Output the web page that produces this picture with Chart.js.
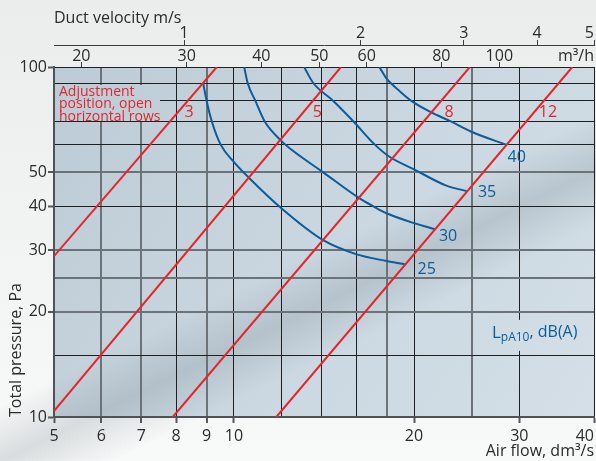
<!DOCTYPE html>
<html>
<head>
<meta charset="utf-8">
<script src="https://cdn.jsdelivr.net/npm/chart.js@4.4.0/dist/chart.umd.min.js"></script>
<style>
    html, body { margin: 0; padding: 0; background: #f2f3f3; }
    #wrap { position: relative; width: 596px; height: 461px; }
</style>
</head>
<body>
<div id="wrap"><canvas id="chart"></canvas></div>
<script>
// =============================================================================
// Air flow vs total pressure (log-log), adjustment positions + sound levels
// =============================================================================

// --- axes ---
const flowTicks = [5, 6, 7, 8, 9, 10, 12, 14, 16, 18, 20, 25, 30, 40];   // dm3/s grid
const flowLabels = [5, 6, 7, 8, 9, 10, 20, 30, 40];
const pressureTicks = [10, 15, 20, 25, 30, 40, 50, 60, 70, 80, 90, 100]; // Pa grid
const pressureLabels = [10, 20, 30, 40, 50, 100];
const m3hTicks = [20, 30, 40, 50, 60, 80, 100];
const velocityTicks = [1, 2, 3, 4, 5];

// --- adjustment positions (open horizontal rows), straight lines ---
const positionNames = ['3', '5', '8', '12'];
const positionFlow = [[5, 9.36], [5, 15.1], [7.9, 24.8], [11.77, 36.8]];
const positionPa = [[28.8, 100], [10.4, 100], [10, 100], [10, 100]];
const positionTag = [[8.41, 74.4], [13.78, 74.4], [22.9, 74.4], [33.5, 74.4]];

// --- sound level LpA10, dB(A) ---
const levelNames = ['25', '30', '35', '40'];
const level25Flow = [8.88, 9.0, 9.18, 9.5, 10, 10.6, 12, 14.1, 16, 18, 19.3];
const level25Pa = [90, 80, 70, 60, 53.5, 48.2, 39.5, 32, 29.2, 27.9, 27.3];
const level30Flow = [10.4, 10.54, 10.86, 11.25, 12, 12.5, 14.1, 16.2, 17.1, 18, 20, 21.7];
const level30Pa = [100, 90, 80, 70, 61.5, 57.9, 50, 42.2, 40, 38.2, 35.8, 34.4];
const level35Flow = [13.1, 13.57, 14.66, 15.83, 17.2, 18.2, 20, 22.6, 24.5];
const level35Pa = [100, 90, 80, 70, 60, 55.4, 51, 45.9, 44.2];
const level40Flow = [17.5, 18.0, 18.9, 19.8, 21.3, 23, 25, 28.5];
const level40Pa = [100, 92.6, 85.5, 80, 74.4, 70, 65.2, 60];
const levelTag = [[21.0, 26.4], [22.8, 32.9], [26.5, 43.8], [29.7, 55.1]];

// unit conversions for the top axes
const M3H_PER_DM3S = 3.6;
const DM3S_PER_MS = 8;

// --- style ---
const FONT = "'Open Sans', sans-serif";
const TXT = '#2b2b2b';
const RED = '#e3262b';
const BLUE = '#0b5c99';
const GRID_DARK = '#1e2022';
const GRID_GRAY = '#6c7378';
const grayX = [6, 7, 9, 18, 25];
const grayY = [20, 25, 30, 50];

const levelFlow = [level25Flow, level30Flow, level35Flow, level40Flow];
const levelPa = [level25Pa, level30Pa, level35Pa, level40Pa];

function gridColor(c, grays) {
    if (!c.tick || c.tick.spacer) return 'transparent';
    return grays.includes(c.tick.value) ? GRID_GRAY : GRID_DARK;
}
function gridWidth(c, grays) {
    return c.tick && grays.includes(c.tick.value) ? 2 : 1;
}
function markColor(c, labelled) {
    if (!c.tick || c.tick.spacer) return 'transparent';
    return labelled.includes(c.tick.value) ? '#55595c' : 'transparent';
}
function plotGradient(ctx, a) {
    const g = ctx.createLinearGradient(a.left, a.top, a.right, a.bottom);
    g.addColorStop(0, '#bdcbd6');
    g.addColorStop(0.55, '#cbd8e1');
    g.addColorStop(1, '#d4dfe7');
    return g;
}

const tickFont = { family: FONT, size: 16, lineHeight: 1 };
const titleFont = { family: FONT, size: 16, lineHeight: 1.2 };

const paperPlugin = {
    id: 'paper',
    beforeDraw(chart) {
        const { ctx, chartArea: a, width, height } = chart;
        ctx.save();
        let g = ctx.createLinearGradient(0, 0, 0, height);
        g.addColorStop(0, '#ebecec');
        g.addColorStop(1, '#f8f9f9');
        ctx.fillStyle = g;
        ctx.fillRect(0, 0, width, height);

        ctx.fillStyle = plotGradient(ctx, a);
        ctx.fillRect(a.left, a.top, a.right - a.left, a.bottom - a.top);

        // soft diagonal shadow band
        g = ctx.createLinearGradient(308, 255, 352, 345);
        g.addColorStop(0, 'rgba(95,110,120,0)');
        g.addColorStop(0.5, 'rgba(95,110,120,0.2)');
        g.addColorStop(1, 'rgba(95,110,120,0)');
        ctx.fillStyle = g;
        ctx.fillRect(0, 0, width, height);
        ctx.restore();
    }
};

const notesPlugin = {
    id: 'notes',
    beforeDatasetsDraw(chart) {
        const { ctx, chartArea: a, scales: { x, y } } = chart;
        ctx.save();
        // text boxes hide the grid behind them
        ctx.fillStyle = plotGradient(ctx, a);
        ctx.fillRect(a.left + 1, a.top + 18, 105, 36);
        const lx = x.getPixelForValue(27), ly = y.getPixelForValue(17.4);
        ctx.fillRect(lx - 4, ly - 13, 98, 31);

        ctx.fillStyle = RED;
        ctx.font = `14px ${FONT}`;
        ctx.textAlign = 'left';
        ctx.textBaseline = 'alphabetic';
        ['Adjustment', 'position, open', 'horizontal rows'].forEach((t, i) => {
            ctx.fillText(t, a.left + 5, a.top + 28.5 + i * 12.5);
        });

        // L_pA10, dB(A)
        ctx.fillStyle = BLUE;
        ctx.textBaseline = 'middle';
        ctx.font = `17px ${FONT}`;
        ctx.fillText('L', lx, ly);
        let cx = lx + ctx.measureText('L').width;
        ctx.font = `12px ${FONT}`;
        ctx.fillText('pA10', cx, ly + 5);
        cx += ctx.measureText('pA10').width;
        ctx.font = `16px ${FONT}`;
        ctx.fillText(', dB(A)', cx, ly);
        ctx.restore();
    },
    afterDatasetsDraw(chart) {
        const { ctx, scales: { x, y } } = chart;
        ctx.save();
        ctx.font = `16px ${FONT}`;
        ctx.textAlign = 'center';
        ctx.textBaseline = 'middle';
        ctx.fillStyle = RED;
        positionNames.forEach((n, i) => {
            ctx.fillText(n, x.getPixelForValue(positionTag[i][0]), y.getPixelForValue(positionTag[i][1]));
        });
        ctx.fillStyle = BLUE;
        levelNames.forEach((n, i) => {
            ctx.fillText(n, x.getPixelForValue(levelTag[i][0]), y.getPixelForValue(levelTag[i][1]));
        });
        ctx.restore();
    }
};

const redLines = positionNames.map((n, i) => ({
    label: 'Position ' + n,
    data: positionFlow[i].map((q, j) => ({ x: q, y: positionPa[i][j] })),
    borderColor: RED,
    borderWidth: 2,
    pointRadius: 0,
    tension: 0
}));

const blueCurves = levelNames.map((n, i) => ({
    label: n + ' dB(A)',
    data: levelFlow[i].map((q, j) => ({ x: q, y: levelPa[i][j] })),
    borderColor: BLUE,
    borderWidth: 2,
    pointRadius: 0,
    cubicInterpolationMode: 'monotone'
}));

const flowMin = flowTicks[0], flowMax = flowTicks[flowTicks.length - 1];

new Chart(document.getElementById('chart'), {
    type: 'line',
    data: { datasets: redLines.concat(blueCurves) },
    plugins: [paperPlugin, notesPlugin],
    options: {
        responsive: true,
        maintainAspectRatio: false,
        devicePixelRatio: 1,
        animation: false,
        layout: { padding: { top: 0, left: 0, right: 2, bottom: 0 } },
        plugins: { legend: { display: false }, tooltip: { enabled: false } },
        scales: {
            x: {
                type: 'logarithmic',
                position: 'bottom',
                min: flowMin,
                max: flowMax,
                afterBuildTicks: s => {
                    s.ticks = [{ value: flowMin, spacer: true }].concat(flowTicks.map(v => ({ value: v })));
                },
                afterFit: s => { s.height = 44; s.paddingLeft = 0; s.paddingRight = 0; },
                ticks: {
                    autoSkip: false, maxRotation: 0, minRotation: 0, align: 'inner',
                    padding: 5, color: TXT, font: tickFont,
                    callback: (v, i, t) => (t[i].spacer || !flowLabels.includes(v)) ? '' : String(v)
                },
                grid: {
                    color: c => gridColor(c, grayX),
                    lineWidth: c => gridWidth(c, grayX),
                    tickLength: 6,
                    tickColor: c => markColor(c, flowLabels),
                    tickWidth: 2
                },
                border: { color: '#4f5356', width: 2 },
                title: {
                    display: true, text: 'Air flow, dm³/s', align: 'end',
                    color: TXT, font: titleFont, padding: { top: 0, bottom: 0 }
                }
            },
            y: {
                type: 'logarithmic',
                position: 'left',
                min: pressureTicks[0],
                max: pressureTicks[pressureTicks.length - 1],
                afterBuildTicks: s => { s.ticks = pressureTicks.map(v => ({ value: v })); },
                afterFit: s => { s.width = 54; s.paddingTop = 0; s.paddingBottom = 0; },
                ticks: {
                    autoSkip: false, padding: 1, color: TXT, font: tickFont,
                    callback: v => pressureLabels.includes(v) ? String(v) : ''
                },
                grid: {
                    color: c => gridColor(c, grayY),
                    lineWidth: c => gridWidth(c, grayY),
                    tickLength: 6,
                    tickColor: c => markColor(c, pressureLabels),
                    tickWidth: 2
                },
                border: { color: '#4f5356', width: 2 },
                title: {
                    display: true, text: 'Total pressure, Pa', align: 'start',
                    color: TXT, font: titleFont, padding: { top: 7, bottom: 0 }
                }
            },
            m3h: {
                type: 'logarithmic',
                position: 'top',
                weight: 1,
                min: flowMin * M3H_PER_DM3S,
                max: flowMax * M3H_PER_DM3S,
                afterBuildTicks: s => {
                    s.ticks = [{ value: s.min, spacer: true }]
                        .concat(m3hTicks.map(v => ({ value: v })))
                        .concat([{ value: s.max, unit: true }]);
                },
                afterFit: s => { s.height = 22; s.paddingLeft = 0; s.paddingRight = 0; },
                ticks: {
                    autoSkip: false, maxRotation: 0, minRotation: 0, align: 'inner',
                    padding: -2, color: TXT, font: tickFont,
                    callback: (v, i, t) => t[i].spacer ? '' : (t[i].unit ? 'm³/h' : String(v))
                },
                grid: {
                    drawOnChartArea: false,
                    tickLength: 5,
                    tickColor: c => (c.tick && !c.tick.spacer && !c.tick.unit) ? '#3a3d40' : 'transparent',
                    tickWidth: 1
                },
                border: { display: false }
            },
            velocity: {
                type: 'logarithmic',
                position: 'top',
                weight: 2,
                min: flowMin / DM3S_PER_MS,
                max: flowMax / DM3S_PER_MS,
                afterBuildTicks: s => {
                    s.ticks = [{ value: s.min, spacer: true }].concat(velocityTicks.map(v => ({ value: v })));
                },
                afterFit: s => { s.height = 45; s.paddingLeft = 0; s.paddingRight = 0; },
                ticks: {
                    autoSkip: false, maxRotation: 0, minRotation: 0, align: 'inner',
                    padding: -1.5, color: TXT, font: tickFont,
                    callback: (v, i, t) => t[i].spacer ? '' : String(v)
                },
                grid: {
                    drawOnChartArea: false,
                    tickLength: 5,
                    tickColor: c => (c.tick && !c.tick.spacer) ? '#3a3d40' : 'transparent',
                    tickWidth: 1
                },
                border: { display: true, color: '#3a3d40', width: 1 },
                title: {
                    display: true, text: 'Duct velocity m/s', align: 'start',
                    color: TXT, font: titleFont, padding: { top: 9, bottom: 0 }
                }
            }
        }
    }
});
</script>
</body>
</html>
